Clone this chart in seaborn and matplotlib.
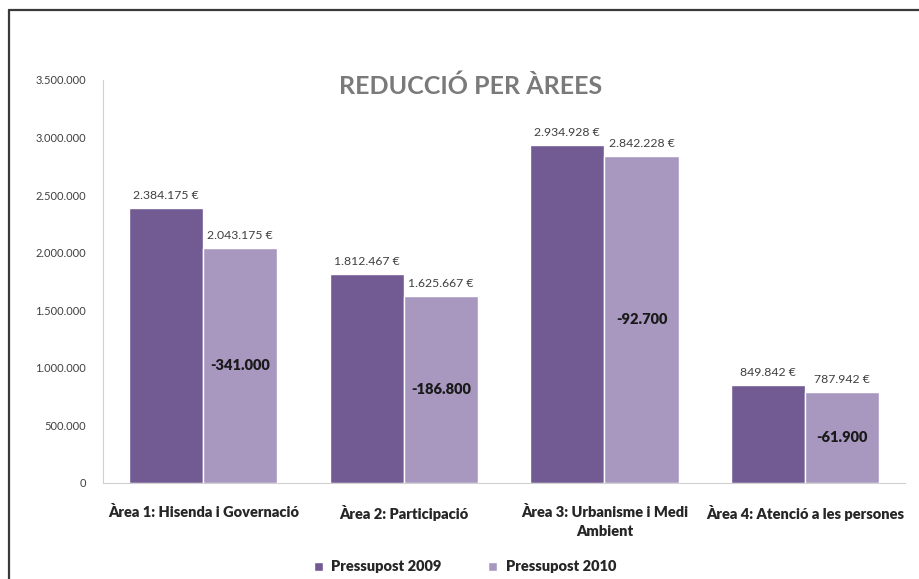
import pandas as pd
import matplotlib.pyplot as plt
import matplotlib.lines as mlines
import seaborn as sns

# Budget per area, 2009 vs 2010
areas = ['Àrea 1: Hisenda i Governació', 'Àrea 2: Participació',
         'Àrea 3: Urbanisme i Medi\nAmbient', 'Àrea 4: Atenció a les persones']
pressupost_2009 = [2384175, 1812467, 2934928, 849842]
pressupost_2010 = [2043175, 1625667, 2842228, 787942]
reduccio = [-341000, -186800, -92700, -61900]
series = ['Pressupost 2009', 'Pressupost 2010']
yticks = [0, 500000, 1000000, 1500000, 2000000, 2500000, 3000000, 3500000]


def punts(v):
    # thousands separated with dots, catalan style
    return f'{v:,.0f}'.replace(',', '.')


df = pd.DataFrame({'area': areas * 2,
                   'serie': [series[0]] * 4 + [series[1]] * 4,
                   'valor': pressupost_2009 + pressupost_2010})

sns.set_style('white')
plt.rcParams['font.family'] = ['Lato', 'DejaVu Sans']

fig = plt.figure(figsize=(9.19, 5.79), dpi=100)
ax = fig.add_axes([0.112, 0.166, 0.873, 0.696])

colors = ['#725a93', '#a898c0']
sns.barplot(data=df, x='area', y='valor', hue='serie', order=areas, hue_order=series,
            palette=colors, width=0.74, saturation=1, edgecolor='white', linewidth=1,
            ax=ax, legend=True)

ax.set_xlim(-0.5, 3.5)
ax.set_ylim(0, 3500000)
ax.set_yticks(yticks)
ax.set_yticklabels([punts(t) for t in yticks], fontsize=8, color='#404040')
ax.tick_params(axis='y', length=0, pad=12)
ax.tick_params(axis='x', length=0, pad=16)
for lbl in ax.get_xticklabels():
    lbl.set_fontweight('heavy')
    lbl.set_fontsize(10.5)
    lbl.set_color('#262626')
    lbl.set_multialignment('center')
    lbl.set_linespacing(1.5)
ax.set_xlabel('')
ax.set_ylabel('')
for s in ['top', 'right']:
    ax.spines[s].set_visible(False)
ax.spines['left'].set_color('#d0d0d0')
ax.spines['bottom'].set_color('#d0d0d0')

# value labels over each bar
for i in range(len(areas)):
    ax.text(i - 0.185, pressupost_2009[i] + 60000, punts(pressupost_2009[i]) + ' €',
            ha='center', va='bottom', fontsize=8.8, color='#404040')
    ax.text(i + 0.185, pressupost_2010[i] + 60000, punts(pressupost_2010[i]) + ' €',
            ha='center', va='bottom', fontsize=8.8, color='#404040')
    ax.text(i + 0.185, pressupost_2010[i] / 2, punts(reduccio[i]),
            ha='center', va='center', fontsize=10.5, fontweight='heavy', color='#1a1a1a')

fig.text(0.512, 0.851, 'REDUCCIÓ PER ÀREES', ha='center', va='center',
         fontsize=18, fontweight='bold', color='#7a7a7a')

handles, labels = ax.get_legend_handles_labels()
ax.get_legend().remove()
leg = fig.legend(handles, labels, loc='center', bbox_to_anchor=(0.506, 0.021), ncol=2,
                 frameon=False, fontsize=10.5, handlelength=0.6, handleheight=0.6,
                 columnspacing=3.2, handletextpad=0.6)
for t in leg.get_texts():
    t.set_fontweight('heavy')
    t.set_color('#262626')

# frame round the chart, top and left side
fig.add_artist(mlines.Line2D([9 / 919, 1], [1 - 10 / 579, 1 - 10 / 579], color='#3a3a3a', lw=1.6))
fig.add_artist(mlines.Line2D([9 / 919, 9 / 919], [0, 1 - 10 / 579], color='#3a3a3a', lw=1.6))

fig.savefig('out.png', dpi=100)
